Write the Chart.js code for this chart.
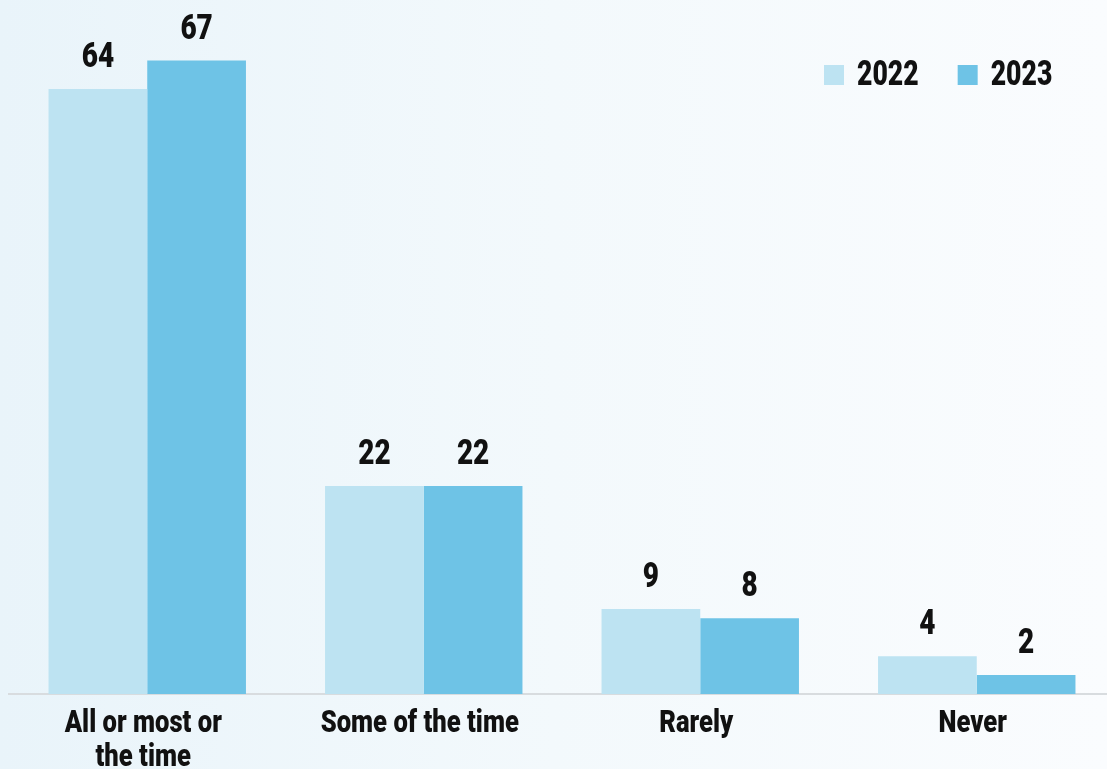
<!DOCTYPE html>
<html>
<head>
<meta charset="utf-8">
<script src="https://cdn.jsdelivr.net/npm/chart.js@4.4.0/dist/chart.umd.min.js"></script>
<style>
    html, body {
        margin: 0;
        padding: 0;
        width: 1107px;
        height: 769px;
        overflow: hidden;
        background: linear-gradient(to right, #e9f4fa 0%, #f3f9fc 50%, #fafcfe 100%);
    }
    #wrap {
        position: relative;
        width: 1115px;
        height: 769px;
    }
</style>
</head>
<body>
<div id="wrap"><canvas id="myChart"></canvas></div>
<script>
// chart values
var categories = [["All or most or", "the time"], "Some of the time", "Rarely", "Never"];
var values2022 = [64, 22, 9, 4];
var values2023 = [67, 22, 8, 2];
var seriesNames = ["2022", "2023"];
var seriesColors = ["#bde3f2", "#6ec3e6"];

var FONT = "Roboto, 'Liberation Sans', sans-serif";

// draw text narrowed horizontally (condensed look)
function squeezedText(ctx, text, x, y, align, sx) {
    var w = ctx.measureText(text).width * sx;
    var left = x;
    if (align === "center") left = x - w / 2;
    ctx.save();
    ctx.translate(left, y);
    ctx.scale(sx, 1);
    ctx.textAlign = "left";
    ctx.fillText(text, 0, 0);
    ctx.restore();
    return w;
}

// numbers above each bar
const valueLabels = {
    id: 'valueLabels',
    afterDatasetsDraw(chart) {
        const ctx = chart.ctx;
        ctx.save();
        ctx.font = "900 35px " + FONT;
        ctx.fillStyle = "#111111";
        ctx.textBaseline = "alphabetic";
        chart.data.datasets.forEach(function(ds, i) {
            const meta = chart.getDatasetMeta(i);
            meta.data.forEach(function(bar, j) {
                squeezedText(ctx, String(ds.data[j]), bar.x, bar.y - 22, "center", 0.8);
            });
        });
        ctx.restore();
    }
};

// category names under the axis
const categoryLabels = {
    id: 'categoryLabels',
    afterDraw(chart) {
        const ctx = chart.ctx;
        const xs = chart.scales.x;
        ctx.save();
        ctx.font = "900 32px " + FONT;
        ctx.fillStyle = "#111111";
        ctx.textBaseline = "alphabetic";
        chart.data.labels.forEach(function(lbl, i) {
            var lines = Array.isArray(lbl) ? lbl : [lbl];
            var x = xs.getPixelForTick(i);
            lines.forEach(function(line, k) {
                squeezedText(ctx, line, x - 4, xs.top + 38 + k * 34, "center", 0.8);
            });
        });
        ctx.restore();
    }
};

// legend top right
const topLegend = {
    id: 'topLegend',
    afterDraw(chart) {
        const ctx = chart.ctx;
        ctx.save();
        ctx.font = "900 35px " + FONT;
        ctx.textBaseline = "alphabetic";
        var x = 824;
        var y = 65;
        chart.data.datasets.forEach(function(ds) {
            ctx.fillStyle = ds.backgroundColor;
            ctx.fillRect(x, y, 20, 20);
            ctx.fillStyle = "#111111";
            var w = squeezedText(ctx, ds.label, x + 33, y + 20, "left", 0.76);
            x += 33 + w + 39;
        });
        ctx.restore();
    }
};

const ctx = document.getElementById('myChart').getContext('2d');
const chart = new Chart(ctx, {
    type: 'bar',
    data: {
        labels: categories,
        datasets: [{
            label: seriesNames[0],
            data: values2022,
            backgroundColor: seriesColors[0]
        }, {
            label: seriesNames[1],
            data: values2023,
            backgroundColor: seriesColors[1]
        }]
    },
    options: {
        responsive: true,
        maintainAspectRatio: false,
        animation: false,
        layout: {
            padding: {left: 9, right: 0, top: 0, bottom: 0}
        },
        datasets: {
            bar: {
                barPercentage: 1,
                categoryPercentage: 0.714
            }
        },
        plugins: {
            legend: {display: false},
            tooltip: {enabled: false}
        },
        scales: {
            x: {
                grid: {display: false},
                border: {display: true, color: "#d8dcdf", width: 2},
                ticks: {display: false},
                afterFit: function(scale) {
                    scale.height = 75;
                }
            },
            y: {
                display: false,
                min: 0,
                max: 73.4
            }
        }
    },
    plugins: [valueLabels, categoryLabels, topLegend]
});
</script>
</body>
</html>
